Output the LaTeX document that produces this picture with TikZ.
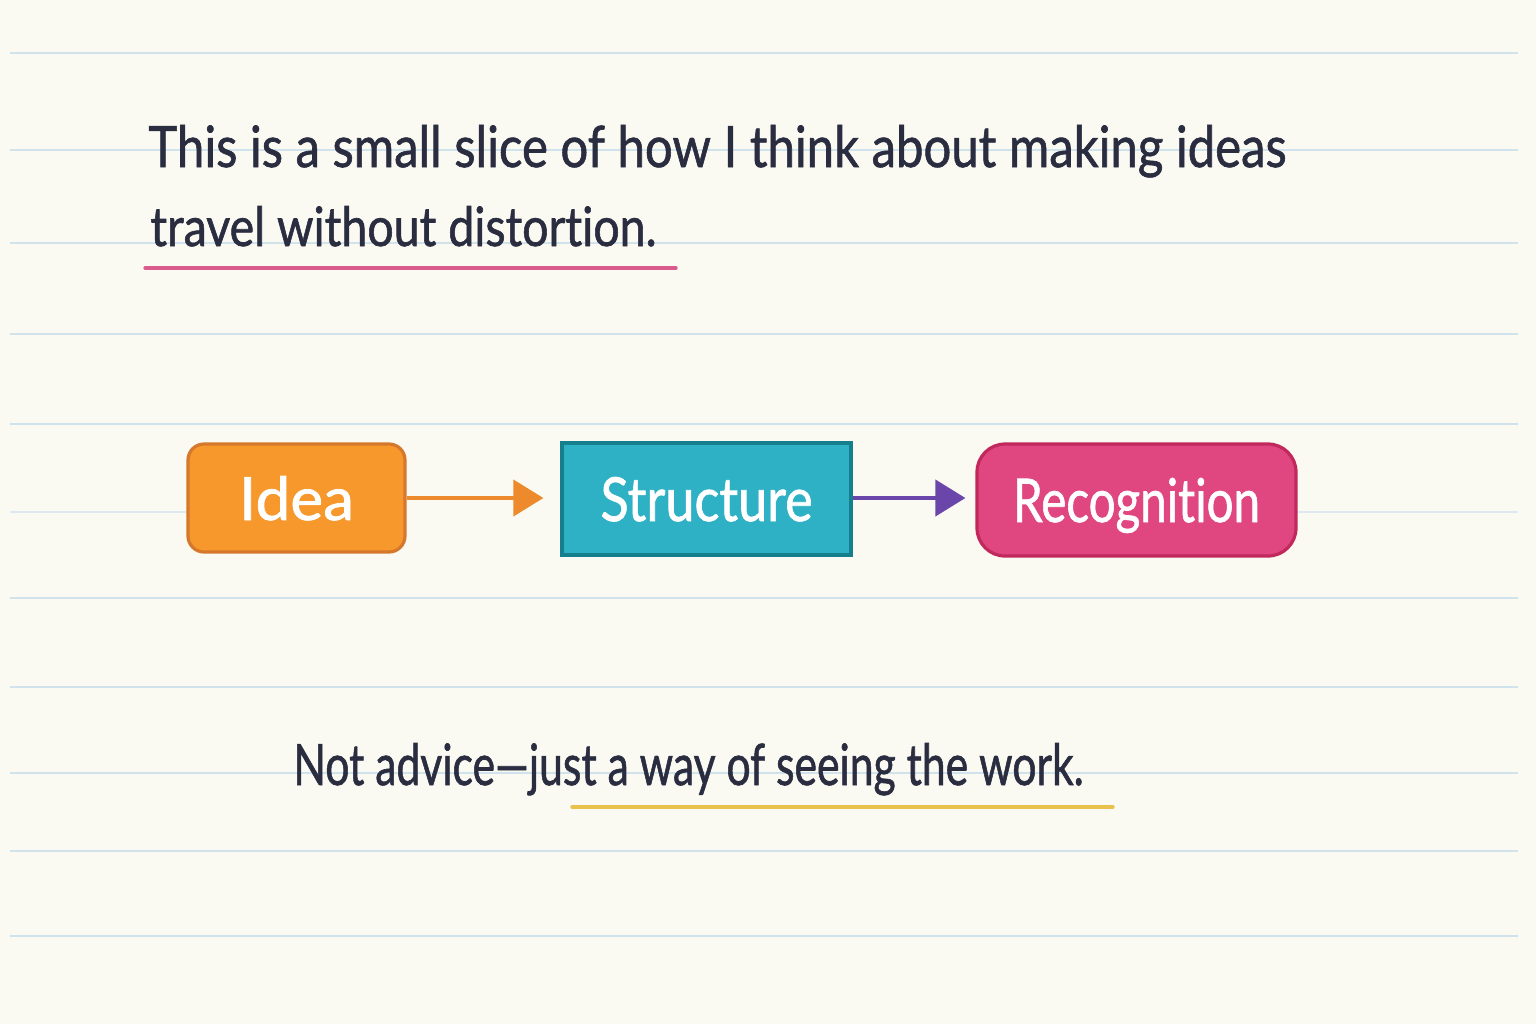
\documentclass[tikz,border=0pt]{standalone}
\usepackage{fontspec}
\setmainfont{Lato}[FakeBold=1.2, Ligatures=NoCommon]
\usetikzlibrary{arrows.meta}
\definecolor{paper}{HTML}{FAF9F2}
\definecolor{rule}{HTML}{D0E2EC}
\definecolor{ink}{HTML}{2A2C40}
\definecolor{pinkline}{HTML}{D95A8C}
\definecolor{yellowline}{HTML}{E9C24E}
\definecolor{orfill}{HTML}{F6982C}
\definecolor{ordraw}{HTML}{D5782C}
\definecolor{orarrow}{HTML}{EC8A2C}
\definecolor{tefill}{HTML}{2EB1C5}
\definecolor{tedraw}{HTML}{167F8D}
\definecolor{pkfill}{HTML}{E0467F}
\definecolor{pkdraw}{HTML}{C1285C}
\definecolor{purp}{HTML}{6A45AA}
\tikzset{
  ruled/.style={draw=rule, line width=1.3pt},
  hand/.style={anchor=base west, text=ink, inner sep=0pt},
  boxtxt/.style={text=white, text height=22pt, text depth=0pt, inner sep=0pt, line width=1.6pt},
  flow/.style={line width=2pt, -{Triangle[length=15pt,width=18pt]}},
  underl/.style={line width=1.6pt, line cap=round}
}
\begin{document}
\begin{tikzpicture}[x=0.5pt,y=-0.5pt]
\useasboundingbox[fill=paper] (0,0) rectangle (1536,1024);
% ruled lines
\foreach \yy in {53,150,243,334,424,598,687,773,851,936}{
  \draw[ruled] (10,\yy) -- (1518,\yy);
}
\draw[ruled, draw=rule!70!paper] (10,512) -- (188,512);
\draw[ruled, draw=rule!70!paper] (1296,512) -- (1518,512);
% heading
\node[hand] (l1) at (148,167) {\resizebox{569pt}{21pt}{This is a small slice of how I think about making ideas}};
\node[hand] (l2) at (150,246) {\resizebox{253pt}{20pt}{travel without distortion.}};
\coordinate (u1a) at (145,268);
\coordinate (u1b) at (676,268);
\draw[underl, draw=pinkline] (u1a) -- (u1b);
% boxes
\node[boxtxt, fill=orfill, draw=ordraw, rounded corners=8pt, minimum width=108.5pt, minimum height=54pt] (idea) at (296.5,498) {\resizebox{57.5pt}{22pt}{Idea}};
\node[boxtxt, fill=tefill, draw=tedraw, minimum width=144.5pt, minimum height=56pt] (structure) at (706.5,499) {\resizebox{106pt}{22pt}{Structure}};
\node[boxtxt, fill=pkfill, draw=pkdraw, rounded corners=14pt, minimum width=159.5pt, minimum height=56pt] (recognition) at (1136.5,500) {\resizebox{123.5pt}{22pt}{Recognition}};
\draw[flow, draw=orarrow, fill=orarrow, shorten >=8.5pt] (idea.east) -- (idea.east -| structure.west);
\draw[flow, draw=purp, fill=purp, shorten >=5pt] (structure.east |- idea.east) -- (structure.east |- idea.east -| recognition.west);
% bottom line
\node[hand] (l3) at (293,785) {\resizebox{395pt}{21pt}{Not advice—just a way of seeing the work.}};
\coordinate (u2a) at (572,807);
\coordinate (u2b) at (1113,807);
\draw[underl, draw=yellowline] (u2a) -- (u2b);
\end{tikzpicture}
\end{document}
